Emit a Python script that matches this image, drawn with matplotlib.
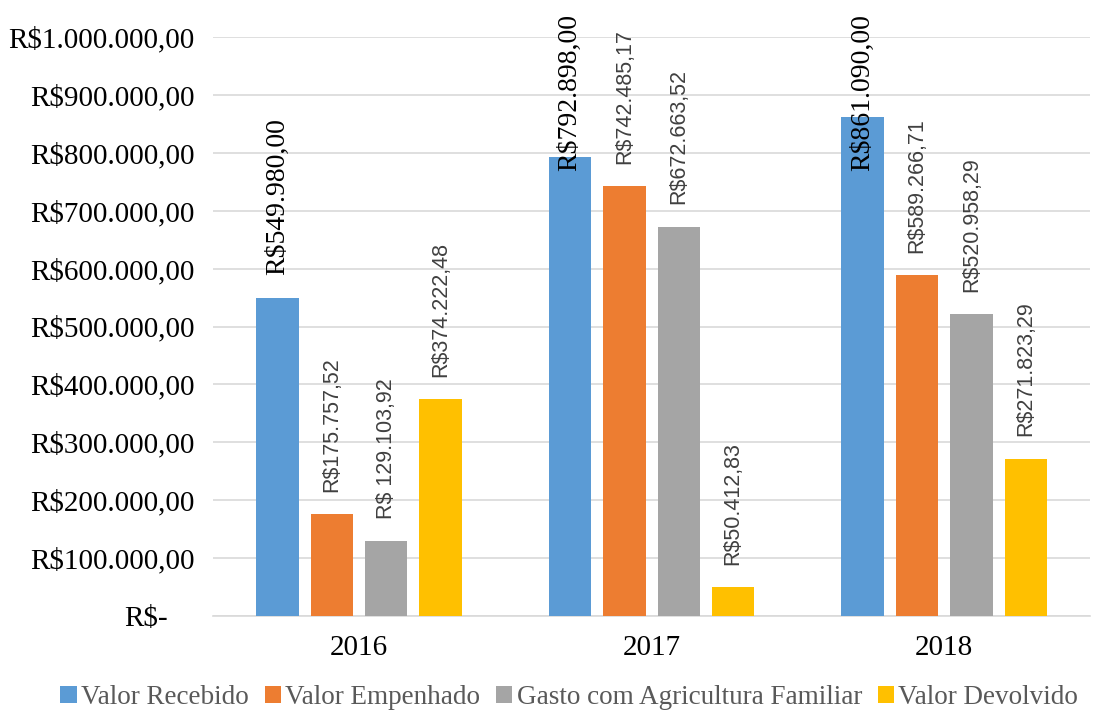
import matplotlib.pyplot as plt
import matplotlib.transforms as mtransforms
import numpy as np

# data
years = ['2016', '2017', '2018']
series_names = ['Valor Recebido', 'Valor Empenhado',
                'Gasto com Agricultura Familiar', 'Valor Devolvido']
valor_recebido = [549980.00, 792898.00, 861090.00]
valor_empenhado = [175757.52, 742485.17, 589266.71]
gasto_agricultura = [129103.92, 672663.52, 520958.29]
valor_devolvido = [374222.48, 50412.83, 271823.29]
label_texts = [
    ['R$549.980,00', 'R$792.898,00', 'R$861.090,00'],
    ['R$175.757,52', 'R$742.485,17', 'R$589.266,71'],
    ['R$ 129.103,92', 'R$672.663,52', 'R$520.958,29'],
    ['R$374.222,48', 'R$50.412,83', 'R$271.823,29'],
]
y_ticks = [0, 100000, 200000, 300000, 400000, 500000, 600000, 700000, 800000, 900000, 1000000]
y_tick_labels = ['R$-', 'R$100.000,00', 'R$200.000,00', 'R$300.000,00', 'R$400.000,00',
                 'R$500.000,00', 'R$600.000,00', 'R$700.000,00', 'R$800.000,00',
                 'R$900.000,00', 'R$1.000.000,00']

colors = ['#5B9BD5', '#ED7D31', '#A5A5A5', '#FFC000']
all_values = [valor_recebido, valor_empenhado, gasto_agricultura, valor_devolvido]

fig = plt.figure(figsize=(10.97, 7.13), dpi=100)
ax = fig.add_axes([0.194, 0.136, 0.800, 0.812])

x = np.arange(len(years))
width = 0.145
step = 0.186

for i, (vals, col, name) in enumerate(zip(all_values, colors, series_names)):
    pos = x + (i - 1.5) * step
    ax.bar(pos, vals, width, color=col, label=name, zorder=3)
    for px, v, txt in zip(pos, vals, label_texts[i]):
        if i == 0:
            # first series labels in black serif, pinned to the top when too tall
            if v + 300000 > 1038000:
                ax.annotate(txt, xy=(px, 1.04), xycoords=('data', 'axes fraction'),
                            ha='center', va='top', rotation=90,
                            fontsize=20, family='Liberation Serif', color='black', zorder=5)
            else:
                ax.annotate(txt, xy=(px, v), xytext=(0, 16), textcoords='offset points',
                            ha='center', va='bottom', rotation=90,
                            fontsize=20, family='Liberation Serif', color='black', zorder=5)
        else:
            ax.annotate(txt, xy=(px, v), xytext=(0, 16), textcoords='offset points',
                        ha='center', va='bottom', rotation=90,
                        fontsize=15.5, family='Liberation Sans', color='#404040', zorder=5)

ax.set_xlim(-0.5, 2.5)
ax.set_ylim(0, 1000000)
ax.set_yticks(y_ticks)
ax.set_yticklabels(y_tick_labels, family='Liberation Serif', fontsize=21)
ax.set_xticks(x)
ax.set_xticklabels(years, family='Liberation Serif', fontsize=21)
ax.tick_params(axis='y', length=0, pad=13)
ax.tick_params(axis='x', length=0, pad=14)

# the zero label sits a bit further left (accounting format padding)
zero_lbl = ax.get_yticklabels()[0]
zero_lbl.set_transform(zero_lbl.get_transform() +
                       mtransforms.ScaledTranslation(-27 / 100, 0, fig.dpi_scale_trans))

ax.grid(axis='y', color='#D9D9D9', linewidth=1.2, zorder=0)
for s in ['top', 'right', 'left']:
    ax.spines[s].set_visible(False)
ax.spines['bottom'].set_color('#D9D9D9')
ax.spines['bottom'].set_linewidth(1.2)

fig.legend(loc='center', bbox_to_anchor=(0.519, 0.022), ncol=4, frameon=False,
           prop={'family': 'Liberation Serif', 'size': 19.5},
           handlelength=0.6, handleheight=0.6, handletextpad=0.15,
           columnspacing=0.6, labelcolor='#595959')

fig.savefig('out.png', dpi=100)
